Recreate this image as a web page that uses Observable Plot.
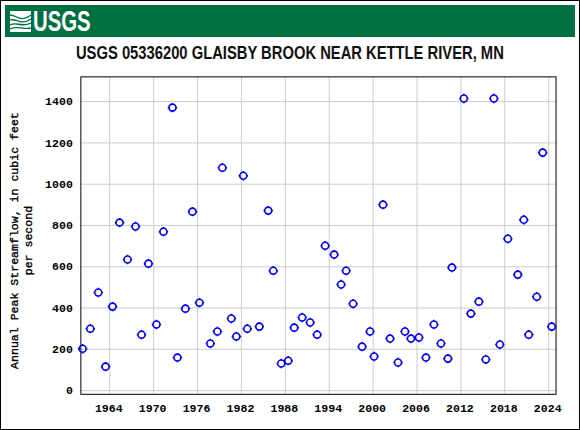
<!DOCTYPE html>
<html><head><meta charset="utf-8">
<script src="https://cdn.jsdelivr.net/npm/d3@7"></script>
<script src="https://cdn.jsdelivr.net/npm/@observablehq/plot@0.6"></script>
<style>
html,body{margin:0;padding:0;background:#fff}
#page{position:relative;width:580px;height:430px;box-sizing:border-box;border:1px solid #000;overflow:hidden}
#band{position:absolute;left:4px;top:4px;width:570px;height:32px;background:#006f41;color:#fff}
#band svg{position:absolute;left:5px;top:6px}
#band span{position:absolute;left:28px;top:-1px;font:bold 29px/34px "Liberation Sans",sans-serif;transform-origin:0 0;transform:scaleX(.70)}
#title{position:absolute;left:0;width:578px;top:42px;text-align:center;color:#111;white-space:nowrap}
#title span{display:inline-block;font:bold 18px "Liberation Sans",sans-serif;transform:scaleX(.82);transform-origin:50% 50%}
#chart{position:absolute;left:-1px;top:-1px}
</style></head><body>
<div id="page">
<div id="chart"></div>
<div id="band"><svg width="21" height="21" viewBox="0 0 21 21"><rect width="21" height="21" fill="#fff"/><path d="M0 4C7 4 10 12 21 4M0 9C6 7 11 15 21 8M0 14C7 10 11 17 21 12M0 18C8 14 12 19 21 17" fill="none" stroke="#006f41" stroke-width="1.3"/></svg><span>USGS</span></div>
<div id="title"><span>USGS 05336200 GLAISBY BROOK NEAR KETTLE RIVER, MN</span></div>
</div>
<script>
const years = [1960.29,1961.34,1962.43,1963.43,1964.38,1965.34,1966.43,1967.52,1968.34,1969.29,1970.38,1971.34,1972.57,1973.25,1974.34,1975.30,1976.25,1977.75,1978.71,1979.39,1980.62,1981.30,1982.25,1982.80,1984.44,1985.66,1986.35,1987.44,1988.39,1989.21,1990.30,1991.39,1992.35,1993.44,1994.67,1995.62,1996.31,1997.26,1998.49,1999.58,2000.13,2001.35,2002.31,2003.40,2004.35,2005.17,2006.26,2007.22,2008.31,2009.27,2010.22,2010.77,2012.40,2013.36,2014.45,2015.40,2016.50,2017.32,2018.41,2019.77,2020.59,2021.27,2022.36,2023.18,2024.41];
const peaks = [203,300,475,116,407,814,635,795,271,615,320,770,1371,160,397,867,426,228,286,1080,349,262,1041,300,310,872,581,131,145,305,354,330,271,702,659,514,581,421,213,286,165,901,252,136,286,252,257,160,320,228,155,596,1415,373,431,151,1415,223,736,562,828,271,455,1153,310];
const xTicks = [1964,1970,1976,1982,1988,1994,2000,2006,2012,2018,2024];
const yTicks = [0,200,400,600,800,1000,1200,1400];
const yLabel = "Annual Peak Streamflow, in cubic feet\nper second";
const table = years.map((y,i)=>({year:y,peak:peaks[i]}));
const marker = {draw(c,size){const r=Math.sqrt(size/Math.PI);
  c.moveTo(r,0);c.arc(0,0,r,0,2*Math.PI);
  c.moveTo(r,0);c.lineTo(r+1.2,0);c.moveTo(-r,0);c.lineTo(-r-1.2,0);
  c.moveTo(0,r);c.lineTo(0,r+1.2);c.moveTo(0,-r);c.lineTo(0,-r-1.2);}};
const mono = '"Liberation Mono","DejaVu Sans Mono",monospace';
const plot = Plot.plot({
  width:580,height:430,marginLeft:80.5,marginRight:23.5,marginTop:76.5,marginBottom:35.5,
  style:{background:"transparent",fontFamily:mono,fontSize:"11.6px",fontWeight:"bold",color:"#000"},
  x:{domain:[1960.05,2025],label:null},
  y:{domain:[-18,1520],label:null},
  marks:[
    Plot.gridX(xTicks,{stroke:"#ccc",strokeOpacity:1,strokeWidth:1}),
    Plot.gridY(yTicks,{stroke:"#ccc",strokeOpacity:1,strokeWidth:1}),
    Plot.axisX({ticks:xTicks,tickSize:0,tickPadding:9,dx:-1,tickFormat:d=>String(d),fontFamily:mono,fontSize:11.6,fontWeight:"bold",fill:"#000"}),
    Plot.axisY({ticks:yTicks,tickSize:0,tickPadding:8,tickFormat:d=>String(d),fontFamily:mono,fontSize:11.6,fontWeight:"bold",fill:"#000"}),
    Plot.frame({stroke:"#000",strokeWidth:1}),
    Plot.dot(table,{x:"year",y:"peak",r:3.5,symbol:marker,stroke:"#00f",strokeWidth:1.6,fill:"none"}),
    Plot.text([yLabel],{text:d=>d,frameAnchor:"left",dx:-60.5,dy:5,rotate:-90,lineAnchor:"middle",textAnchor:"middle",fontFamily:mono,fontSize:11.6,fontWeight:"normal",fill:"#000",stroke:"#000",strokeWidth:.35,lineHeight:1.2})
  ]
});
document.getElementById("chart").appendChild(plot);
</script>
</body></html>
